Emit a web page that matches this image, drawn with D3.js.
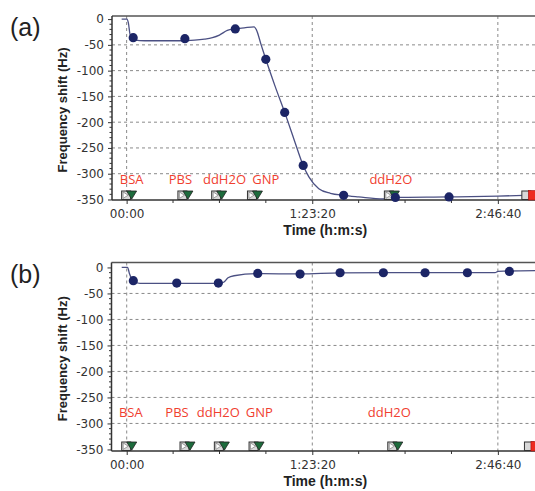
<!DOCTYPE html>
<html>
<head>
<meta charset="utf-8">
<script src="https://cdn.jsdelivr.net/npm/d3@7"></script>
<style>
  body { margin: 0; background: #fff; }
  svg { display: block; }
  .tick-label { font-family: "DejaVu Sans", sans-serif; font-size: 12px; fill: #333; }
  .axis-title { font-family: "Liberation Sans", Arial, sans-serif; font-weight: bold; fill: #222; }
  .panel-label { font-family: "Liberation Sans", Arial, sans-serif; font-size: 25px; fill: #222; }
  .event-label { font-family: "Open Sans", sans-serif; font-size: 13px; fill: #f0402f; }
</style>
</head>
<body>
<div id="chart"></div>
<script>
// Shared axis ticks
const timeTicks = [0, 5000, 10000];
const timeTickLabels = ["00:00", "1:23:20", "2:46:40"];
const freqTicks = [0, -50, -100, -150, -200, -250, -300, -350];
const eventNames = ["BSA", "PBS", "ddH2O", "GNP", "ddH2O"];

// Panel (a) - trace (time s, Hz)
const traceATime = [-134, 8, 48, 88, 142, 222, 490, 1427, 1829, 2097, 2311, 2499, 2713, 2927, 3168, 3436, 3490, 3624, 3749, 3998, 4258, 4507, 4756, 4909, 5177, 5490, 5846, 6248, 6917, 7239, 8685, 10000, 10700];
const traceAHz = [0, 0, -8, -28, -37, -41, -42, -42, -41, -39, -36, -31, -22, -19, -17, -15, -20, -50, -78, -130, -181, -233, -284, -306, -329, -338, -342, -345, -349, -346, -345, -343.5, -342];
const markerATime = [177, 1569, 2927, 3749, 4258, 4756, 5846, 7239, 8685];
const markerAHz = [-36, -38, -19, -78, -181, -284, -342, -346, -345];
const eventATime = [121, 1637, 2547, 3511, 7199];
const labelATime = [137, 1449, 2636, 3749, 7119];
const endATime = 10902;

// Panel (b)
const traceBTime = [-135, 22, 75, 129, 224, 358, 2514, 2622, 2730, 2892, 3539, 4671, 5749, 8039, 9171, 9925, 10006, 11003];
const traceBHz = [0, 0, -12, -22, -28, -30.5, -30.5, -28, -20, -16, -12, -12.5, -10.5, -10, -10, -10, -7.5, -6];
const markerBTime = [178, 1348, 2469, 3530, 4671, 5749, 6915, 8039, 9179, 10311];
const markerBHz = [-25.5, -30, -30, -11.5, -12.8, -10.2, -10.2, -10.2, -10.2, -7.7];
const eventBTime = [121, 1692, 2617, 3552, 7290];
const labelBTime = [110, 1356, 2469, 3571, 7074];
const endBTime = 10972;

const W = 535, H = 491;
const svg = d3.select("#chart").append("svg").attr("width", W).attr("height", H);

function drawPanel(opt) {
    const g = svg.append("g");
    const x = d3.scaleLinear().domain(opt.tDomain).range([opt.left, opt.right]);
    const y = d3.scaleLinear().domain(opt.yDomain).range([opt.bottom, opt.top]);

    // dashed grid
    g.selectAll(".hgrid").data(freqTicks.filter(d => d < 0 && d > -350)).enter()
        .append("line")
        .attr("x1", opt.left).attr("x2", opt.right)
        .attr("y1", d => y(d)).attr("y2", d => y(d))
        .attr("stroke", "#8a8a8a").attr("stroke-width", 1).attr("stroke-dasharray", "3,3");
    g.selectAll(".vgrid").data(timeTicks).enter()
        .append("line")
        .attr("x1", d => x(d)).attr("x2", d => x(d))
        .attr("y1", opt.top).attr("y2", opt.bottom)
        .attr("stroke", "#8a8a8a").attr("stroke-width", 1).attr("stroke-dasharray", "3,3");

    // frame: top border
    g.append("line")
        .attr("x1", opt.left).attr("x2", opt.right)
        .attr("y1", opt.top).attr("y2", opt.top)
        .attr("stroke", "#555").attr("stroke-width", 1.5);

    // y axis
    const yAxis = d3.axisLeft(y).tickValues(freqTicks).tickSize(4).tickFormat(d3.format("d"));
    const ya = g.append("g").attr("transform", `translate(${opt.left},0)`).call(yAxis);
    ya.select(".domain").remove();
    ya.selectAll("line").attr("stroke", "#333");
    ya.selectAll("text").attr("class", "tick-label").attr("dx", "-1")
        .text(d => d === 0 ? "0" : "-" + Math.abs(d));
    // minor y ticks every 10 Hz
    const minorY = d3.range(-350, 1, 10).filter(d => d % 50 !== 0);
    g.selectAll(".ymin").data(minorY).enter().append("line")
        .attr("x1", opt.left - 2.5).attr("x2", opt.left)
        .attr("y1", d => y(d)).attr("y2", d => y(d))
        .attr("stroke", "#333");
    g.append("line")
        .attr("x1", opt.left).attr("x2", opt.left)
        .attr("y1", opt.top).attr("y2", opt.bottom)
        .attr("stroke", "#333").attr("stroke-width", 1.5);

    // x axis
    const xAxis = d3.axisBottom(x).tickValues(timeTicks).tickSize(4)
        .tickFormat((d, i) => timeTickLabels[i]);
    const xa = g.append("g").attr("transform", `translate(0,${opt.bottom})`).call(xAxis);
    xa.select(".domain").remove();
    xa.selectAll("line").attr("stroke", "#333");
    xa.selectAll("text").attr("class", "tick-label").attr("dy", "0.95em");
    const minorX = d3.range(1250, 11000, 1250).filter(d => d % 5000 !== 0);
    g.selectAll(".xmin").data(minorX).enter().append("line")
        .attr("x1", d => x(d)).attr("x2", d => x(d))
        .attr("y1", opt.bottom).attr("y2", opt.bottom + 3)
        .attr("stroke", "#333");
    g.append("line")
        .attr("x1", opt.left).attr("x2", opt.right)
        .attr("y1", opt.bottom).attr("y2", opt.bottom)
        .attr("stroke", "#333").attr("stroke-width", 1.5);

    // titles
    g.append("text").attr("class", "axis-title")
        .attr("transform", `translate(${opt.yTitleX},${(opt.top + opt.bottom) / 2 + 2}) rotate(-90)`)
        .attr("text-anchor", "middle").style("font-size", "13px")
        .text("Frequency shift (Hz)");
    g.append("text").attr("class", "axis-title")
        .attr("x", x(5000) + 13).attr("y", opt.bottom + 35)
        .attr("text-anchor", "middle").style("font-size", "14px")
        .text("Time (h:m:s)");
    g.append("text").attr("class", "panel-label")
        .attr("x", 10).attr("y", opt.top + 20)
        .text(opt.name);

    // event labels
    g.selectAll(".ev-label").data(opt.labelTime).enter().append("text")
        .attr("class", "event-label")
        .attr("x", d => x(d)).attr("y", opt.labelY)
        .attr("text-anchor", "middle")
        .text((d, i) => eventNames[i]);

    // trace line
    const line = d3.line().x(d => x(d[0])).y(d => y(d[1])).curve(d3.curveMonotoneX);
    g.append("path")
        .datum(opt.traceTime.map((t, i) => [t, opt.traceHz[i]]))
        .attr("d", line)
        .attr("fill", "none").attr("stroke", "#4b5083").attr("stroke-width", 1.3);

    // event icons (gray flag box + green down triangle)
    const icons = g.selectAll(".ev-icon").data(opt.eventTime).enter().append("g")
        .attr("transform", d => `translate(${x(d)},${opt.bottom})`);
    icons.append("rect").attr("x", -9.5).attr("y", -9).attr("width", 9).attr("height", 8.5)
        .attr("fill", "#d8d8d8").attr("stroke", "#333").attr("stroke-width", 1);
    icons.append("path").attr("d", "M-8,-8 L-3,-4.8 L-8,-1.6 Z")
        .attr("fill", "#fff").attr("stroke", "#666").attr("stroke-width", 0.6);
    icons.append("path").attr("d", "M-4.5,-9 L5.5,-9 L0.5,-0.8 Z")
        .attr("fill", "#1d6b3c").attr("stroke", "#222").attr("stroke-width", 0.8);

    // end marker (gray box + red square)
    const endIcon = g.append("g").attr("transform", `translate(${x(opt.endTime)},${opt.bottom})`);
    endIcon.append("rect").attr("x", -9.5).attr("y", -9).attr("width", 9).attr("height", 8.5)
        .attr("fill", "#d8d8d8").attr("stroke", "#333").attr("stroke-width", 1);
    endIcon.append("rect").attr("x", -3).attr("y", -9.5).attr("width", 9).attr("height", 9.5)
        .attr("fill", "#ee2a1f").attr("stroke", "#a01010").attr("stroke-width", 0.6);

    // data markers
    g.selectAll(".pt").data(opt.markerTime).enter().append("circle")
        .attr("cx", d => x(d))
        .attr("cy", (d, i) => y(opt.markerHz[i]))
        .attr("r", 4.6)
        .attr("fill", "#1c2566");
}

drawPanel({
    name: "(a)", left: 112, right: 545, top: 16, bottom: 200,
    tDomain: [-394, 11270], yDomain: [-351, 6],
    yTitleX: 67, labelY: 184,
    traceTime: traceATime, traceHz: traceAHz,
    markerTime: markerATime, markerHz: markerAHz,
    eventTime: eventATime, labelTime: labelATime, endTime: endATime
});

drawPanel({
    name: "(b)", left: 111.5, right: 545, top: 262.5, bottom: 451,
    tDomain: [-410, 11270], yDomain: [-353, 9.5],
    yTitleX: 67, labelY: 417,
    traceTime: traceBTime, traceHz: traceBHz,
    markerTime: markerBTime, markerHz: markerBHz,
    eventTime: eventBTime, labelTime: labelBTime, endTime: endBTime
});
</script>
</body>
</html>
